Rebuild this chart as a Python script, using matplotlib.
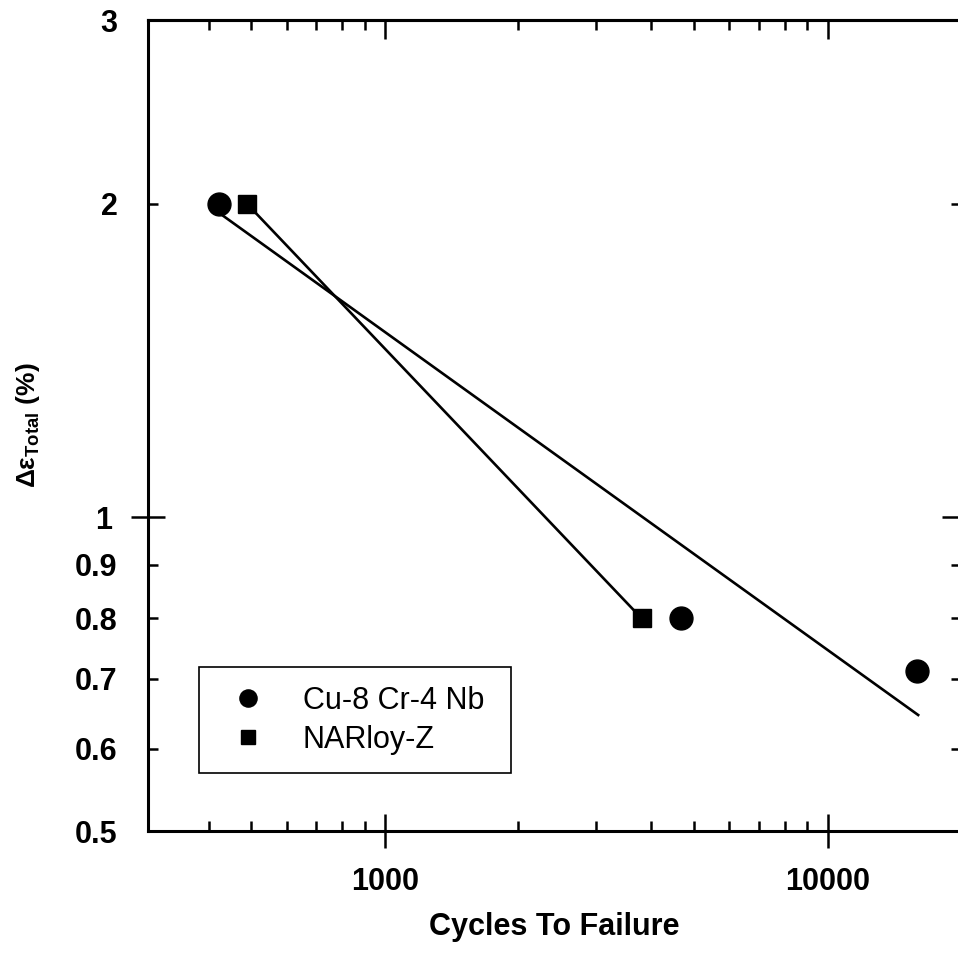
import matplotlib
matplotlib.use('Agg')
import matplotlib.pyplot as plt
from matplotlib.ticker import FixedLocator, FixedFormatter, NullFormatter

plt.rcParams['font.family'] = ['Liberation Sans', 'DejaVu Sans']
plt.rcParams['mathtext.fontset'] = 'custom'
plt.rcParams['mathtext.rm'] = 'Liberation Sans:bold'
plt.rcParams['mathtext.it'] = 'Liberation Sans:italic:bold'
plt.rcParams['mathtext.bf'] = 'Liberation Sans:bold'

# ---------------- data ----------------
cu_cycles = [422, 4660, 15880]
cu_strain = [2.0, 0.8, 0.712]
cu_fit_cycles = [422, 16100]
cu_fit_strain = [1.96, 0.645]

nar_cycles = [488, 3800]
nar_strain = [2.0, 0.8]

y_major = [1]
y_minor = [0.5, 0.6, 0.7, 0.8, 0.9, 2, 3]
y_minor_labels = ['0.5', '0.6', '0.7', '0.8', '0.9', '2', '3']
x_major = [1000, 10000]
x_major_labels = ['1000', '10000']
x_minor = [400, 500, 600, 700, 800, 900,
           2000, 3000, 4000, 5000, 6000, 7000, 8000, 9000]

# ---------------- plot ----------------
fig = plt.figure(figsize=(9.58, 9.55), dpi=100)
ax = fig.add_axes([0.1545, 0.1298, 0.8486, 0.8492])

ax.plot(cu_fit_cycles, cu_fit_strain, color='black', lw=1.9, solid_capstyle='butt')
ax.plot(nar_cycles, nar_strain, color='black', lw=1.9, solid_capstyle='butt')
ax.plot(cu_cycles, cu_strain, 'o', color='black', ms=16.5, label='Cu-8 Cr-4 Nb')
ax.plot(nar_cycles, nar_strain, 's', color='black', ms=13.5, label='NARloy-Z')

ax.set_xscale('log')
ax.set_yscale('log')
ax.set_xlim(292, 20000)
ax.set_ylim(0.5, 3)

for s in ax.spines.values():
    s.set_linewidth(2.2)

ax.xaxis.set_major_locator(FixedLocator(x_major))
ax.xaxis.set_major_formatter(FixedFormatter(x_major_labels))
ax.xaxis.set_minor_locator(FixedLocator(x_minor))
ax.xaxis.set_minor_formatter(NullFormatter())

ax.yaxis.set_major_locator(FixedLocator(y_major))
ax.yaxis.set_major_formatter(FixedFormatter(['1']))
ax.yaxis.set_minor_locator(FixedLocator(y_minor))
ax.yaxis.set_minor_formatter(FixedFormatter(y_minor_labels))

# bottom/left: majors cross the axis, minors point inward
ax.tick_params(which='both', width=1.8, labelsize=22)
ax.tick_params(which='minor', direction='in', length=7, top=True, right=True)
ax.tick_params(which='major', direction='inout', length=25, pad=13.5)
ax.tick_params(axis='y', which='minor', pad=22)
for lbl in ax.get_xticklabels() + ax.get_yticklabels(minor=True) + ax.get_yticklabels():
    lbl.set_fontweight('bold')

# top/right majors only point inward
secx = ax.secondary_xaxis('top')
secx.set_xticks(x_major)
secx.tick_params(direction='in', length=14, width=1.8, labeltop=False)
secx.xaxis.set_minor_locator(FixedLocator([]))
secy = ax.secondary_yaxis('right')
secy.set_yticks(y_major)
secy.tick_params(direction='in', length=14, width=1.8, labelright=False)
secy.yaxis.set_minor_locator(FixedLocator([]))
for sec in (secx, secy):
    for s in sec.spines.values():
        s.set_linewidth(2.2)

ax.set_xlabel('Cycles To Failure', fontsize=22, fontweight='bold')
ax.xaxis.set_label_coords(0.5, -0.1)
ax.set_ylabel('Δε$_{\\mathrm{Total}}$ (%)', fontsize=19, fontweight='bold')
ax.yaxis.set_label_coords(-0.13, 0.5)

leg = ax.legend(loc='lower left', bbox_to_anchor=(0.0627, 0.0715, 0.384, 0.127),
                mode='expand', borderaxespad=0, fancybox=False,
                edgecolor='black', framealpha=1, fontsize=22, markerscale=0.75,
                borderpad=0.6, labelspacing=0.3, handlelength=2.0,
                handletextpad=0.8)
leg.get_frame().set_linewidth(1.2)

fig.savefig('out.png', dpi=100)
